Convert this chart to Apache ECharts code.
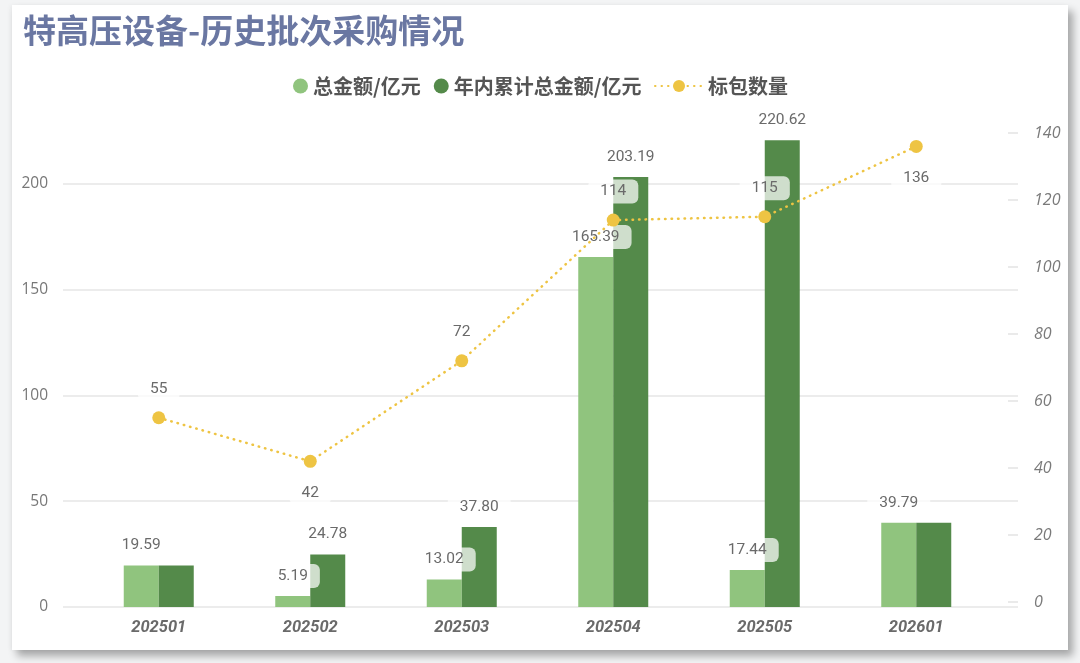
<!DOCTYPE html>
<html>
<head>
<meta charset="utf-8">
<script src="https://cdn.jsdelivr.net/npm/echarts@6/dist/echarts.min.js"></script>
<style>
  html, body { margin: 0; padding: 0; width: 1080px; height: 663px; background: #f3f4f5; overflow: hidden; }
  #card { position: absolute; left: 12px; top: 5px; width: 1056px; height: 645px; background: #fff;
          box-shadow: 5px 6px 8px rgba(0,0,0,0.32), -2px 0 4px rgba(0,0,0,0.04); }
  #main { position: absolute; left: 0; top: 0; width: 1080px; height: 663px; }
</style>
</head>
<body>
<div id="card"></div>
<div id="main"></div>
<script>
// 数据
var months = ['202501', '202502', '202503', '202504', '202505', '202601'];
var totalAmount = [19.59, 5.19, 13.02, 165.39, 17.44, 39.79];   // 总金额/亿元
var cumAmount = [19.59, 24.78, 37.80, 203.19, 220.62, 39.79];  // 年内累计总金额/亿元
var packCount = [55, 42, 72, 114, 115, 136];                    // 标包数量

var labelColor = '#6a6a6a';
var labelBox = {
    color: labelColor,
    fontFamily: 'Roboto',
    fontSize: 15.5,
    backgroundColor: 'rgba(255,255,255,0.72)',
    borderRadius: 6,
    padding: [4, 12]
};
var fmt2 = function(p){ return p.value.toFixed(2); };

// 累计等于当期时只显示一个标签
var cumData = cumAmount.map(function(v, i){
    return v === totalAmount[i] ? { value: v, label: { show: false } } : v;
});
var belowLabels = ['202502', '202601'];
var countData = packCount.map(function(v, i){
    var below = belowLabels.indexOf(months[i]) >= 0;
    return { value: v, label: { position: below ? 'bottom' : 'top', distance: below ? 13 : 10 } };
});

var chart = echarts.init(document.getElementById('main'));
var option = {
    animation: false,
    title: {
        text: '特高压设备-历史批次采购情况',
        left: 18, top: 9,
        textStyle: { fontFamily: 'Noto Sans CJK SC', fontSize: 33, fontWeight: 'bold', color: '#6a77a2' }
    },
    legend: [{
        left: 288, top: 71,
        itemWidth: 15, itemHeight: 15, itemGap: 13,
        textStyle: { fontFamily: 'Noto Sans CJK SC', fontSize: 20, fontWeight: 'bold', color: '#555' },
        data: [{ name: '总金额/亿元', icon: 'circle' }, { name: '年内累计总金额/亿元', icon: 'circle' }]
    }, {
        left: 649, top: 71,
        itemWidth: 48, itemHeight: 15,
        textStyle: { fontFamily: 'Noto Sans CJK SC', fontSize: 20, fontWeight: 'bold', color: '#555' },
        data: ['标包数量']
    }],
    // 0: 左轴网格线  1: 右轴  2: 柱  3: 折线
    grid: [
        { left: 63, right: 62, top: 133, bottom: 56 },
        { left: 63, right: 62, top: 133, bottom: 61 },
        { left: 83, right: 88, top: 133, bottom: 56 },
        { left: 83, right: 88, top: 133, bottom: 61 }
    ],
    xAxis: [
        { type: 'category', gridIndex: 0, data: months, show: false },
        { type: 'category', gridIndex: 1, data: months, show: false },
        {
            type: 'category', gridIndex: 2, data: months,
            axisLine: { show: false }, axisTick: { show: false },
            axisLabel: { margin: 12, color: labelColor, fontFamily: 'Roboto', fontSize: 16.5,
                         fontWeight: 'bold', fontStyle: 'italic' }
        },
        { type: 'category', gridIndex: 3, data: months, show: false }
    ],
    yAxis: [
        {
            type: 'value', gridIndex: 0, position: 'left', min: 0, max: 224, interval: 50,
            axisLine: { show: false }, axisTick: { show: false },
            axisLabel: { margin: 15, color: '#777', fontFamily: 'Open Sans', fontSize: 15.5, showMaxLabel: false },
            splitLine: { showMaxLine: false, lineStyle: { color: '#e6e6e6', width: 1.5 } }
        },
        {
            type: 'value', gridIndex: 1, position: 'right', min: 0, max: 140, interval: 20,
            axisLine: { show: false },
            axisTick: { show: true, inside: true, length: 10, lineStyle: { color: '#e3e3e3', width: 1.5 } },
            axisLabel: { margin: 16, color: '#7a7a7a', fontFamily: 'Open Sans', fontSize: 16, fontStyle: 'italic' },
            splitLine: { show: false }
        },
        { type: 'value', gridIndex: 2, min: 0, max: 224, show: false, splitLine: { show: false } },
        { type: 'value', gridIndex: 3, min: 0, max: 140, show: false, splitLine: { show: false } }
    ],
    series: [
        {
            name: '总金额/亿元', type: 'bar', xAxisIndex: 2, yAxisIndex: 2,
            data: totalAmount, barWidth: 35, barGap: '0%',
            itemStyle: { color: '#90c47e' },
            label: Object.assign({ show: true, position: 'top', distance: 8, formatter: fmt2 }, labelBox)
        },
        {
            name: '年内累计总金额/亿元', type: 'bar', xAxisIndex: 2, yAxisIndex: 2,
            data: cumData, barWidth: 35, barGap: '0%',
            itemStyle: { color: '#548a4a' },
            label: Object.assign({ show: true, position: 'top', distance: 8, formatter: fmt2 }, labelBox)
        },
        {
            name: '标包数量', type: 'line', xAxisIndex: 3, yAxisIndex: 3,
            data: countData, symbol: 'circle', symbolSize: 13,
            itemStyle: { color: '#eec443' },
            lineStyle: { color: '#eec443', width: 2.5, type: [0.5, 6], cap: 'round' },
            label: Object.assign({ show: true }, labelBox),
            z: 5
        }
    ]
};
chart.setOption(option);
</script>
</body>
</html>
